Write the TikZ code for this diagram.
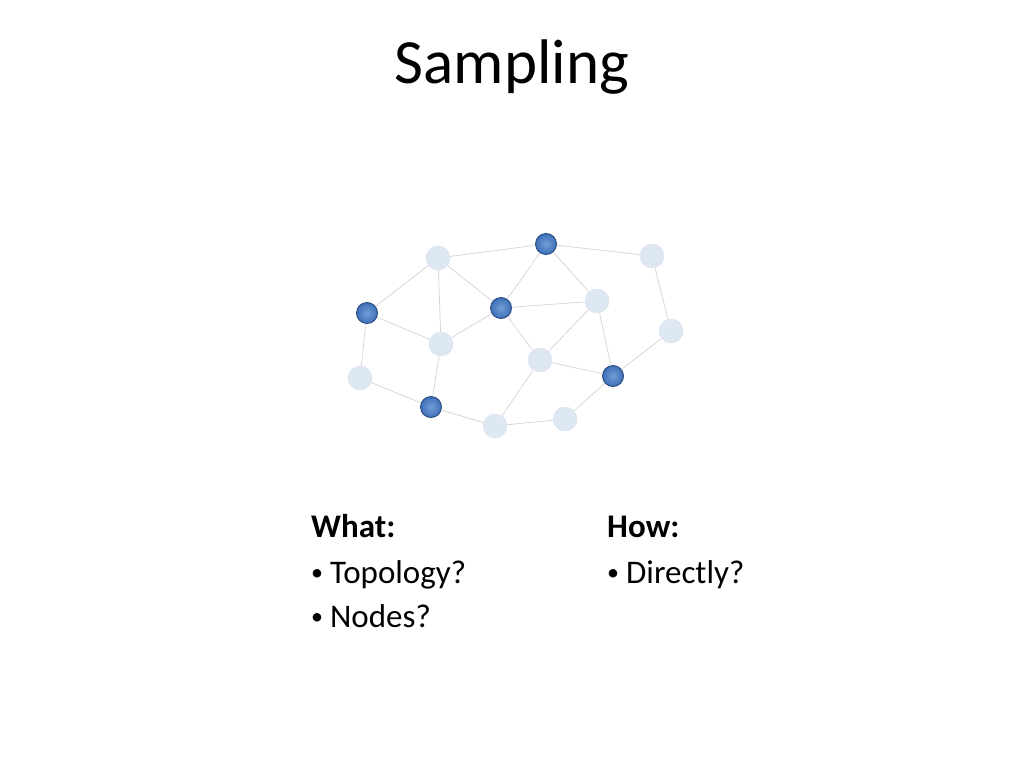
\documentclass[tikz,border=0pt]{standalone}
\usepackage{fontspec}
\setmainfont{Carlito}
\usetikzlibrary{positioning}
\definecolor{pale}{RGB}{222,232,243}
\definecolor{paleedge}{RGB}{212,223,238}
\definecolor{deep}{RGB}{62,112,184}
\definecolor{glow}{RGB}{112,158,216}
\definecolor{deepedge}{RGB}{40,74,126}
\definecolor{wire}{RGB}{215,215,215}
\tikzset{pt/.style={circle,inner sep=0pt,minimum size=24pt,fill=pale,draw=paleedge,line width=0.3pt}}
\tikzset{hit/.style={circle,inner sep=0pt,minimum size=21pt,inner color=glow,outer color=deep,draw=deepedge,line width=0.9pt}}
\tikzset{ln/.style={draw=wire,line width=0.8pt}}
\tikzset{txt/.style={anchor=base west,inner sep=0pt,font=\fontsize{33}{40}\selectfont}}
\newcommand{\blt}{\raisebox{3pt}{\fontsize{24}{24}\selectfont •}\hspace{7pt}}

\begin{document}
\begin{tikzpicture}[x=1pt,y=-1pt]
\useasboundingbox (0,0) rectangle (1024,768);
\node (title) at (512,67) {\fontsize{63}{70}\selectfont Sampling};

% graph
\node[pt] (A) at (438,258) {};
\node[hit] (B) at (546,244) {};
\node[pt] (C) at (652,256) {};
\node[hit] (D) at (367,313) {};
\node[hit] (E) at (501,308) {};
\node[pt] (F) at (597,301) {};
\node[pt] (G) at (671,331) {};
\node[pt] (H) at (441,344) {};
\node[pt] (I) at (540,360) {};
\node[hit] (J) at (613,376) {};
\node[pt] (K) at (360,378) {};
\node[hit] (L) at (431,407) {};
\node[pt] (M) at (495,426) {};
\node[pt] (N) at (565,419) {};

\draw[ln] (A) -- (B) (A) -- (D) (A) -- (H) (A) -- (E);
\draw[ln] (B) -- (E) (B) -- (F) (B) -- (C) (C) -- (G) (G) -- (J);
\draw[ln] (D) -- (H) (D) -- (K) (K) -- (L) (L) -- (H) (H) -- (E);
\draw[ln] (E) -- (F) (E) -- (I) (F) -- (I) (F) -- (J) (I) -- (J);
\draw[ln] (I) -- (M) (L) -- (M) (M) -- (N) (N) -- (J);

% lists
\node[txt] (what) at (311,537) {\bfseries What:};
\node[txt] (w1) at (311,583) {\blt Topology?};
\node[txt] (w2) at (311,627) {\blt Nodes?};
\node[txt] (how) at (607,537) {\bfseries How:};
\node[txt] (h1) at (607,583) {\blt Directly?};
\end{tikzpicture}
\end{document}
